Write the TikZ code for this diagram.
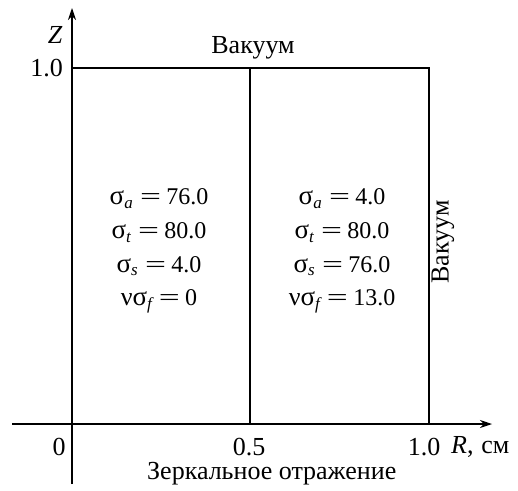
\documentclass[tikz,border=0pt]{standalone}
\usepackage{fontspec}
\usepackage{graphicx}
\setmainfont{Liberation Serif}
\usetikzlibrary{arrows.meta}
\newcommand\sbs[1]{\raisebox{-0.35ex}{\fontsize{17}{17}\selectfont\itshape #1}}
\newcommand\sig{{\fontsize{27}{27}\selectfont σ}}
\newcommand\nuu{{\fontsize{26}{26}\selectfont ν}}
\newcommand\eqq{\hspace{0.3em}\scalebox{1.55}[1]{=}\hspace{0.22em}}
\tikzset{
  axis/.style={line width=1.1pt,-{Stealth[length=12pt,width=8pt]}},
  wall/.style={line width=1.1pt},
  lbl/.style={font=\fontsize{26}{30}\selectfont, inner sep=0pt},
  par/.style={font=\fontsize{24}{33.7}\selectfont, align=center, inner sep=0pt}
}
\begin{document}
\begin{tikzpicture}[x=1pt,y=-1pt]
\useasboundingbox (0,0) rectangle (518,490);
% axes
\coordinate (zb) at (72,484);
\coordinate (zt) at (72,8);
\coordinate (rl) at (12,424);
\coordinate (rr) at (492,424);
\draw[axis] (zb) -- (zt);
\draw[axis] (rl) -- (rr);
% walls
\coordinate (tl) at (72,68);
\coordinate (tr) at (429,68);
\coordinate (br) at (429,424);
\coordinate (mt) at (250,68);
\coordinate (mb) at (250,424);
\draw[wall] (tl) -- (tr) -- (br);
\draw[wall] (mt) -- (mb);
% labels
\node[lbl, font=\fontsize{26}{30}\selectfont\itshape] (zl) at (55,35) {Z};
\node[lbl, anchor=east] (z1) at (63,68) {1.0};
\node[lbl] (vtop) at (253,48) {Вакуум};
\node[lbl, rotate=90] (vright) at (443,242) {Вакуум};
\node[lbl] (r0) at (59,447) {0};
\node[lbl] (r05) at (249,447) {0.5};
\node[lbl] (r10) at (424,447) {1.0};
\node[lbl, anchor=west] (rlab) at (451,447) {\itshape R\upshape,\hspace{0.3em}см};
\node[lbl, anchor=west] (mirror) at (147,474) {Зеркальное отражение};
% parameters
\node[par] (left) at (159,251) {%
\sig\sbs{a}\eqq 76.0\\
\sig\sbs{t}\eqq 80.0\\
\sig\sbs{s}\eqq 4.0\\
\nuu\sig\sbs{f}\eqq 0};
\node[par] (right) at (342,251) {%
\sig\sbs{a}\eqq 4.0\\
\sig\sbs{t}\eqq 80.0\\
\sig\sbs{s}\eqq 76.0\\
\nuu\sig\sbs{f}\eqq 13.0};
\end{tikzpicture}
\end{document}
